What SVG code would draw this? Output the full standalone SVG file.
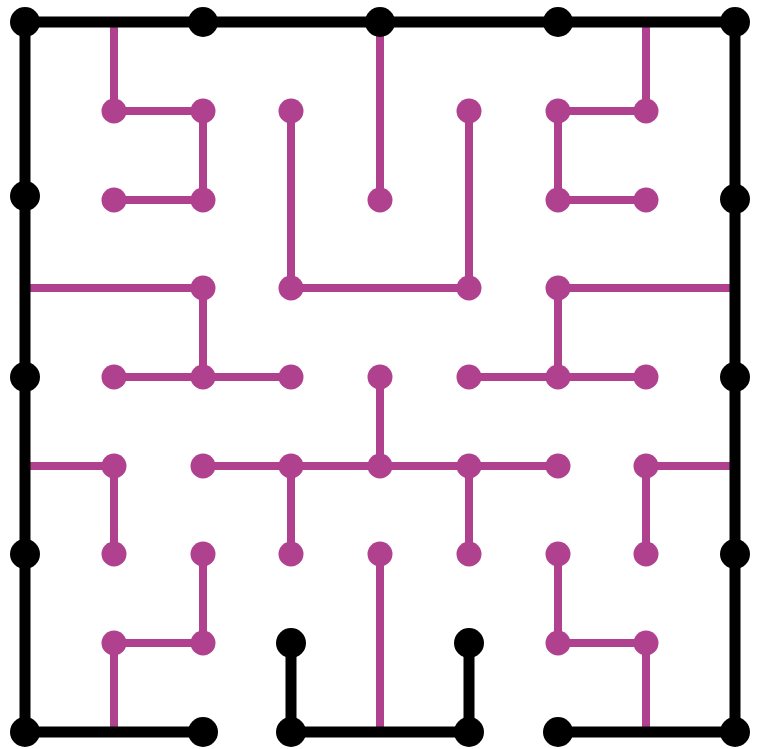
<svg xmlns="http://www.w3.org/2000/svg" width="757" height="749" viewBox="0 0 757 749">
<style>
.p{fill:none;stroke:#b0418e;stroke-width:8;stroke-linejoin:miter}
.b{fill:none;stroke:#000;stroke-width:11;stroke-linejoin:miter}
.pd{fill:#b0418e}
.bd{fill:#000}
</style>
<rect width="757" height="749" fill="#fff"/>
<g id="connectors">
<polyline class="p" points="114,22 114,111 203,111 203,200 114,200"/>
<polyline class="p" points="291,111 291,288 469,288 469,111"/>
<polyline class="p" points="380,22 380,200"/>
<polyline class="p" points="646,22 646,111 558,111 558,200 646,200"/>
<polyline class="p" points="25,288 203,288 203,377"/>
<polyline class="p" points="114,377 291,377"/>
<polyline class="p" points="735,288 558,288 558,377"/>
<polyline class="p" points="469,377 646,377"/>
<polyline class="p" points="380,377 380,466"/>
<polyline class="p" points="203,466 558,466"/>
<polyline class="p" points="291,466 291,554"/>
<polyline class="p" points="469,466 469,554"/>
<polyline class="p" points="25,466 114,466 114,554"/>
<polyline class="p" points="735,466 646,466 646,554"/>
<polyline class="p" points="203,554 203,643 114,643 114,732"/>
<polyline class="p" points="380,554 380,732"/>
<polyline class="p" points="558,554 558,643 646,643 646,732"/>
<polyline class="b" points="735,22 25,22 25,732 203,732"/>
<polyline class="b" points="291,643 291,732 469,732 469,643"/>
<polyline class="b" points="558,732 735,732 735,22"/>
</g>
<g id="purple-nodes" class="pd">
<circle id="p1" cx="114" cy="111" r="12.5"/><circle id="p2" cx="203" cy="111" r="12.5"/>
<circle id="p3" cx="203" cy="200" r="12.5"/><circle id="p4" cx="114" cy="200" r="12.5"/>
<circle id="p5" cx="291" cy="111" r="12.5"/><circle id="p6" cx="291" cy="288" r="12.5"/>
<circle id="p7" cx="469" cy="288" r="12.5"/><circle id="p8" cx="469" cy="111" r="12.5"/>
<circle id="p9" cx="380" cy="200" r="12.5"/><circle id="p10" cx="646" cy="111" r="12.5"/>
<circle id="p11" cx="558" cy="111" r="12.5"/><circle id="p12" cx="558" cy="200" r="12.5"/>
<circle id="p13" cx="646" cy="200" r="12.5"/><circle id="p14" cx="203" cy="288" r="12.5"/>
<circle id="p15" cx="114" cy="377" r="12.5"/><circle id="p16" cx="203" cy="377" r="12.5"/>
<circle id="p17" cx="291" cy="377" r="12.5"/><circle id="p18" cx="558" cy="288" r="12.5"/>
<circle id="p19" cx="469" cy="377" r="12.5"/><circle id="p20" cx="558" cy="377" r="12.5"/>
<circle id="p21" cx="646" cy="377" r="12.5"/><circle id="p22" cx="380" cy="377" r="12.5"/>
<circle id="p23" cx="203" cy="466" r="12.5"/><circle id="p24" cx="291" cy="466" r="12.5"/>
<circle id="p25" cx="380" cy="466" r="12.5"/><circle id="p26" cx="469" cy="466" r="12.5"/>
<circle id="p27" cx="558" cy="466" r="12.5"/><circle id="p28" cx="291" cy="554" r="12.5"/>
<circle id="p29" cx="469" cy="554" r="12.5"/><circle id="p30" cx="114" cy="466" r="12.5"/>
<circle id="p31" cx="114" cy="554" r="12.5"/><circle id="p32" cx="646" cy="466" r="12.5"/>
<circle id="p33" cx="646" cy="554" r="12.5"/><circle id="p34" cx="203" cy="554" r="12.5"/>
<circle id="p35" cx="203" cy="643" r="12.5"/><circle id="p36" cx="114" cy="643" r="12.5"/>
<circle id="p37" cx="380" cy="554" r="12.5"/><circle id="p38" cx="558" cy="554" r="12.5"/>
<circle id="p39" cx="558" cy="643" r="12.5"/><circle id="p40" cx="646" cy="643" r="12.5"/>
</g>
<g id="black-nodes" class="bd">
<circle id="b1" cx="25" cy="22" r="15"/><circle id="b2" cx="203" cy="22" r="15"/>
<circle id="b3" cx="380" cy="22" r="15"/><circle id="b4" cx="558" cy="22" r="15"/>
<circle id="b5" cx="735" cy="22" r="15"/><circle id="b6" cx="25" cy="196" r="15"/>
<circle id="b7" cx="25" cy="377" r="15"/><circle id="b8" cx="25" cy="554" r="15"/>
<circle id="b9" cx="25" cy="732" r="15"/><circle id="b10" cx="735" cy="199" r="15"/>
<circle id="b11" cx="735" cy="377" r="15"/><circle id="b12" cx="735" cy="554" r="15"/>
<circle id="b13" cx="735" cy="732" r="15"/><circle id="b14" cx="203" cy="732" r="15"/>
<circle id="b15" cx="291" cy="643" r="15"/><circle id="b16" cx="291" cy="732" r="15"/>
<circle id="b17" cx="469" cy="643" r="15"/><circle id="b18" cx="469" cy="732" r="15"/>
<circle id="b19" cx="558" cy="732" r="15"/>
</g>
</svg>
